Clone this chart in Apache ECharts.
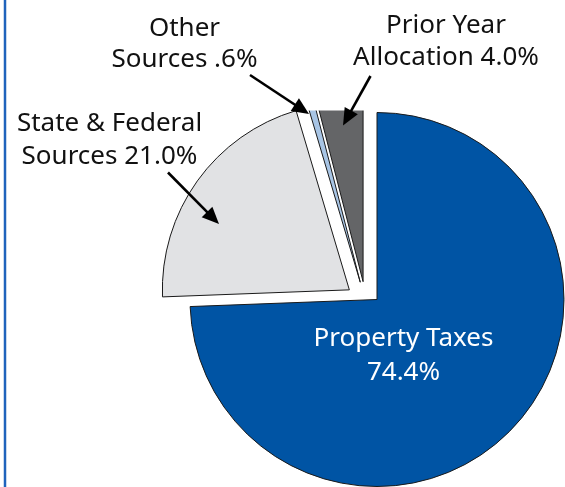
<!DOCTYPE html>
<html>
<head>
<meta charset="utf-8">
<style>
  html, body { margin: 0; padding: 0; background: #fff; }
  #chart { width: 565px; height: 487px; }
</style>
<script src="https://cdn.jsdelivr.net/npm/echarts@6/dist/echarts.min.js"></script>
</head>
<body>
<div id="chart"></div>
<script>
// Revenue sources, share of total (%)
const categories = ['Property Taxes', 'State & Federal Sources', 'Other Sources', 'Prior Year Allocation'];
const shares = [74.4, 21.0, 0.6, 4.0];
// Two-line callout text: first line, and the word that precedes the percentage
const labelFirstLines = ['Property Taxes', 'State & Federal', 'Other', 'Prior Year'];
const labelSecondWords = ['', 'Sources', 'Sources', 'Allocation'];

const palette = ['#0054a4', '#e1e2e4', '#a8c5e5', '#646567'];
const FONT = '26px "Noto Sans", "Open Sans", sans-serif';

function pct(v) {
  return v.toFixed(1).replace(/^0\./, '.') + '%';
}

// Build pie data where only the listed indices are visible
function pieData(visible, selectVisible) {
  return categories.map((name, i) => {
    const on = visible.indexOf(i) >= 0;
    return {
      name: name,
      value: shares[i],
      selected: on && selectVisible,
      itemStyle: on
        ? { color: palette[i], borderColor: '#1a1a1a', borderWidth: 1 }
        : { color: 'rgba(0,0,0,0)', borderWidth: 0 }
    };
  });
}

const pieCommon = {
  type: 'pie',
  radius: 187,
  startAngle: 90,
  clockwise: true,
  silent: true,
  label: { show: false },
  labelLine: { show: false },
  emphasis: { disabled: true },
  avoidLabelOverlap: false
};

// Callout placement (line centres) and arrows
const calloutLayout = [
  { x: 403.5, y1: 339, y2: 373, color: '#ffffff' },
  { x: 109.5, y1: 123.5, y2: 156.5, color: '#111111' },
  { x: 184.5, y1: 28.5, y2: 60, color: '#111111' },
  { x: 446, y1: 25.5, y2: 57.5, color: '#111111' }
];
const arrowLayout = [
  null,
  [168, 172.5, 219, 224],
  [250, 75, 309, 114],
  [370.5, 76, 343, 125.5]
];

function arrow(x1, y1, x2, y2) {
  const dx = x2 - x1, dy = y2 - y1, L = Math.hypot(dx, dy);
  const ux = dx / L, uy = dy / L;
  const hl = 17, hw = 7.5;
  const bx = x2 - ux * hl, by = y2 - uy * hl;
  return [
    { type: 'line', silent: true, z: 110,
      shape: { x1: x1, y1: y1, x2: bx + ux * 2, y2: by + uy * 2 },
      style: { stroke: '#000', lineWidth: 2.6 } },
    { type: 'polygon', silent: true, z: 110,
      shape: { points: [[x2, y2], [bx - uy * hw, by + ux * hw], [bx + uy * hw, by - ux * hw]] },
      style: { fill: '#000' } }
  ];
}

function textEl(str, x, y, color) {
  return {
    type: 'text', x: x, y: y, z: 110, silent: true,
    style: {
      text: str, font: FONT, fill: color,
      align: 'center', verticalAlign: 'middle',
      textAlign: 'center', textVerticalAlign: 'middle'
    }
  };
}

const elements = [
  // flat trim along the top of the separated wedges
  { type: 'rect', silent: true, z: 100,
    shape: { x: 120, y: 0, width: 255, height: 110.5 },
    style: { fill: '#ffffff' } },
  // left rule
  { type: 'line', silent: true, z: 100,
    shape: { x1: 5, y1: 0, x2: 5, y2: 487 },
    style: { stroke: '#1f63bc', lineWidth: 2.5 } }
];

categories.forEach((name, i) => {
  const lay = calloutLayout[i];
  const line1 = labelFirstLines[i];
  const line2 = labelSecondWords[i] ? labelSecondWords[i] + ' ' + pct(shares[i]) : pct(shares[i]);
  elements.push(textEl(line1, lay.x, lay.y1, lay.color));
  elements.push(textEl(line2, lay.x, lay.y2, lay.color));
  if (arrowLayout[i]) {
    const a = arrowLayout[i];
    arrow(a[0], a[1], a[2], a[3]).forEach(e => elements.push(e));
  }
});

const chart = echarts.init(document.getElementById('chart'));
chart.setOption({
  animation: false,
  backgroundColor: '#ffffff',
  series: [
    Object.assign({}, pieCommon, {
      name: 'main',
      z: 2,
      center: [377, 299.5],
      data: pieData([0], false)
    }),
    Object.assign({}, pieCommon, {
      name: 'separated',
      z: 2,
      center: [365.6, 301.5],
      selectedMode: 'multiple',
      selectedOffset: 20,
      data: pieData([1, 2, 3], true)
    })
  ],
  graphic: { elements: elements }
});
</script>
</body>
</html>
